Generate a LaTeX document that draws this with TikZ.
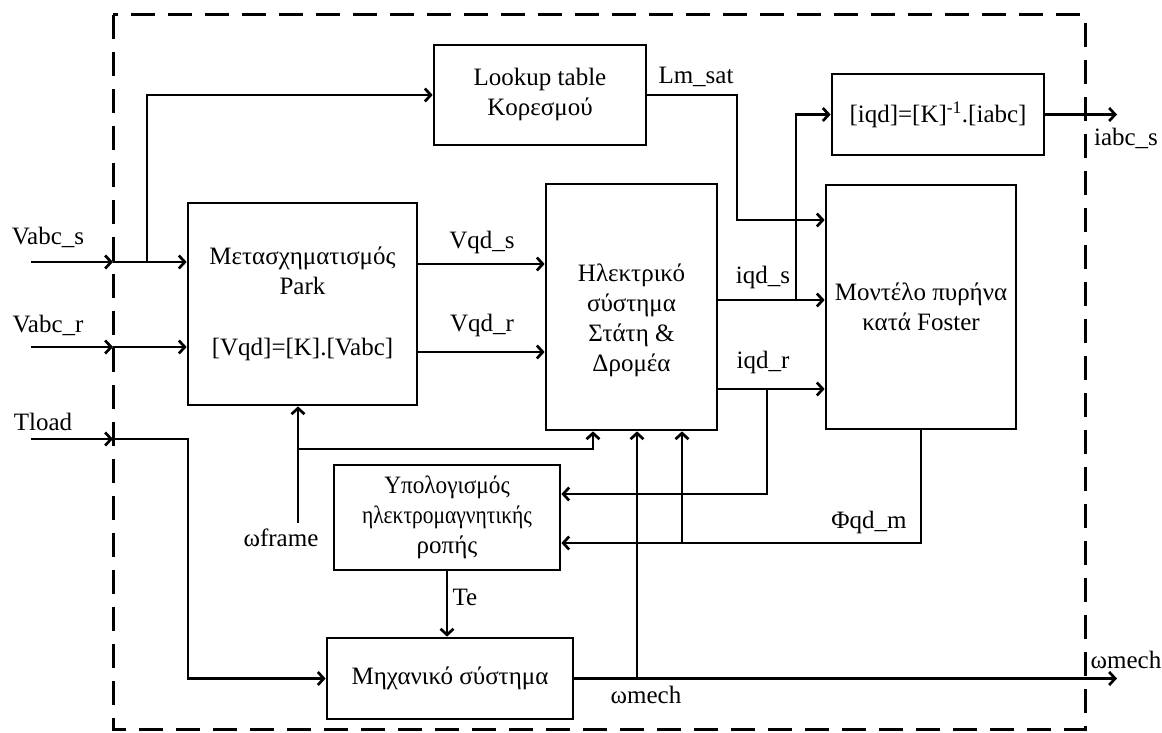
\documentclass[tikz,border=0pt]{standalone}
\usepackage{fontspec}
\setmainfont{Liberation Serif}
\newfontfamily\tnr{Liberation Serif}
\usetikzlibrary{arrows.meta}
\begin{document}
\begin{tikzpicture}[x=1pt,y=-1pt,
  every node/.style={font=\tnr\fontsize{25}{30}\selectfont, inner sep=0pt},
  blk/.style={draw, line width=2.7pt, align=center},
  wire/.style={line width=2.7pt},
  arr/.style={wire, -{Straight Barb[length=6pt,width=13pt]}},
  frame/.style={line width=3pt, dash pattern=on 24pt off 13pt}]
\useasboundingbox (0,0) rectangle (1162,733);

% model boundary
\draw[frame] (113,15) rectangle (1085,729);

% blocks
\node[blk, minimum width=212pt, minimum height=100pt] (lookup) at (540,95) {Lookup table\\Κορεσμού};
\node[blk, minimum width=212pt, minimum height=81pt] (iqdbox) at (938,114.5) {[iqd]=[K]\textsuperscript{-1}.[iabc]};
\node[blk, minimum width=229pt, minimum height=202pt] (park) at (302.5,304) {Μετασχηματισμός\\Park\\[31pt]{}[Vqd]=[K].[Vabc]};
\node[blk, minimum width=171pt, minimum height=246pt] (elec) at (631.5,307) {};
\node[align=center] (electxt) at (631.5,320) {Ηλεκτρικό\\σύστημα\\Στάτη \&\\Δρομέα};
\node[blk, minimum width=190pt, minimum height=244pt] (foster) at (921,307) {Μοντέλο πυρήνα\\κατά Foster};
\node[blk, minimum width=226pt, minimum height=105pt] (torque) at (447,517.5) {\scalebox{0.93}[1]{Υπολογισμός}\\\scalebox{0.86}[1]{ηλεκτρομαγνητικής}\\ροπής};
\node[blk, minimum width=246pt, minimum height=81pt] (mech) at (450,678.5) {Μηχανικό σύστημα};

% signal labels
\node (lVs) at (48,237) {Vabc\_s};
\node (lVr) at (48,325) {Vabc\_r};
\node (lTl) at (43,422) {Tload};
\node (lVqs) at (482,242) {Vqd\_s};
\node (lVqr) at (482,325) {Vqd\_r};
\node (lLm) at (696,77) {Lm\_sat};
\node (lIs) at (763,277) {iqd\_s};
\node (lIr) at (763,362) {iqd\_r};
\node (lIabc) at (1126,138) {iabc\_s};
\node (lPhi) at (869,522) {Φqd\_m};
\node (lWf) at (281,538) {ωframe};
\node (lTe) at (465,597) {Te};
\node (lWm) at (646,695) {ωmech};
\node (lWmo) at (1126,660) {ωmech};

% external inputs and boundary crossings
\coordinate (inVs) at (31,262);
\coordinate (inVr) at (31,347);
\coordinate (inTl) at (31,439);
\coordinate (bVs) at (113,262);
\coordinate (bVr) at (113,347);
\coordinate (bTl) at (113,439);
\coordinate (brLk) at (147,262);
\coordinate (tlc) at (188,439);
\draw[arr] (inVs) -- (bVs);
\draw[arr] (bVs) -- (bVs -| park.west);
\draw[arr] (brLk) |- (lookup.west);
\draw[arr] (inVr) -- (bVr);
\draw[arr] (bVr) -- (bVr -| park.west);
\draw[arr] (inTl) -- (bTl);
\draw[arr] (bTl) -- (tlc) |- (mech.west);

% park -> electrical system
\coordinate (yVqs) at (0,264);
\coordinate (yVqr) at (0,352);
\draw[arr] (park.east |- yVqs) -- (elec.west |- yVqs);
\draw[arr] (park.east |- yVqr) -- (elec.west |- yVqr);

% saturation table -> Foster model
\coordinate (lmc) at (737,220);
\draw[arr] (lookup.east) -| (lmc) -- (lmc -| foster.west);

% stator / rotor currents
\coordinate (yIs) at (0,300);
\coordinate (yIr) at (0,389);
\coordinate (brIs) at (796,300);
\coordinate (brIr) at (767,389);
\draw[arr] (elec.east |- yIs) -- (foster.west |- yIs);
\draw[arr] (brIs) |- (iqdbox.west);
\draw[arr] (elec.east |- yIr) -- (foster.west |- yIr);
\draw[arr] (brIr) |- (torque.east |- 0,494);

% magnetising flux
\coordinate (phic) at (921,543);
\coordinate (brPhi) at (682,543);
\draw[arr] (foster.south) -- (phic) -- (phic -| torque.east);
\draw[arr] (brPhi) -- (brPhi |- elec.south);

% reference frame speed
\coordinate (wf) at (298,523);
\coordinate (wfb) at (298,449);
\coordinate (wfe) at (593,449);
\draw[arr] (wf) -- (wf |- park.south);
\draw[arr] (wfb) -- (wfe) -- (wfe |- elec.south);

% electromagnetic torque
\draw[arr] (torque.south) -- (torque.south |- mech.north);

% mechanical speed
\coordinate (wmo) at (1117,678.5);
\coordinate (brWm) at (637,678.5);
\draw[arr] (mech.east) -- (wmo);
\draw[arr] (brWm) -- (brWm |- elec.south);

% phase currents out
\coordinate (iabco) at (1117,114.5);
\draw[arr] (iqdbox.east) -- (iabco);
\end{tikzpicture}
\end{document}
